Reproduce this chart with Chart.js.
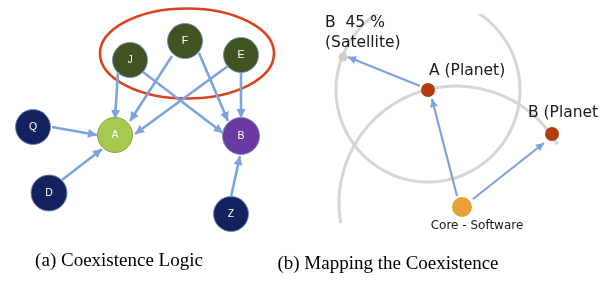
<!DOCTYPE html>
<html>
<head>
<meta charset="utf-8">
<script src="https://cdn.jsdelivr.net/npm/chart.js@4/dist/chart.umd.min.js"></script>
<style>
  html, body { margin: 0; padding: 0; background: #ffffff; }
  #c { display: block; }
</style>
</head>
<body>
<canvas id="c" width="605" height="284"></canvas>
<script>
// ---------- DATA (diagram coordinates) ----------
// Panel (a): coexistence logic graph
const nodeNames  = ['J', 'F', 'E', 'Q', 'A', 'B', 'D', 'Z'];
const nodeX      = [130, 185, 241, 33, 115, 241, 49, 231];
const nodeY      = [60, 41, 55, 127, 135, 136, 193, 214];
const nodeSize   = [17.5, 17.5, 17.5, 17.5, 17.5, 18.5, 18, 17.5];
const nodeColor  = ['#425321', '#425321', '#425321', '#13225e', '#a6c94f', '#6a3aa0', '#13225e', '#13225e'];

// edges: from -> to (start / end points)
const edgeFrom   = ['J', 'F', 'E', 'J', 'F', 'E', 'Q', 'D', 'Z'];
const edgeTo     = ['A', 'A', 'A', 'B', 'B', 'B', 'A', 'A', 'B'];
const edgeX0     = [118, 172, 228, 143, 199, 241, 52, 62, 231];
const edgeY0     = [72, 56, 66, 72, 53, 73, 127, 180, 197];
const edgeX1     = [115, 130, 135, 223, 228, 241, 97, 102, 240];
const edgeY1     = [119, 121, 134, 133, 121, 118, 135, 149, 156];

// highlight ellipse around J, F, E
const groupCenter = [187, 53.5];
const groupRadii  = [87, 45];

// Panel (b): mapping the coexistence
const bodyNames  = ['B  45 %\n(Satellite)', 'A (Planet)', 'B (Planet)', 'Core - Software'];
const bodyX      = [343, 428, 552, 462];
const bodyY      = [57, 90, 134, 207];
const bodySize   = [4.5, 7, 7, 10];
const bodyColor  = ['#cfcfcf', '#b23c0c', '#b23c0c', '#e8a038'];
const labelX     = [325, 429, 528, 477];
const labelY     = [23, 71, 113, 226];

const mapFrom    = ['A (Planet)', 'Core', 'Core'];
const mapTo      = ['Satellite', 'A (Planet)', 'B (Planet)'];
const mapX0      = [420, 457, 473];
const mapY0      = [86, 196, 199];
const mapX1      = [348, 432, 544];
const mapY1      = [57, 99, 143];

// orbits: satellite orbit around A, planet orbit around the core
const orbitCX    = [428, 456];
const orbitCY    = [90, 203];
const orbitR     = [92, 117];
const orbitStart = [0, 170];
const orbitEnd   = [360, 330];

const captions   = ['(a) Coexistence Logic', '(b) Mapping the Coexistence'];
const captionX   = [119, 388];
const captionY   = [266, 269];

// ---------- CHART ----------
const edgeColor = '#7ba4de';
const datasets = [];
for (let i = 0; i < edgeFrom.length; i++) {
  datasets.push({
    type: 'line', label: edgeFrom[i] + '→' + edgeTo[i],
    data: [{x: edgeX0[i], y: edgeY0[i]}, {x: edgeX1[i], y: edgeY1[i]}],
    borderColor: edgeColor, borderWidth: 2.6, pointRadius: 0, fill: false,
    arrow: {len: 9, half: 4.5}
  });
}
for (let i = 0; i < mapFrom.length; i++) {
  datasets.push({
    type: 'line', label: mapFrom[i] + '→' + mapTo[i],
    data: [{x: mapX0[i], y: mapY0[i]}, {x: mapX1[i], y: mapY1[i]}],
    borderColor: edgeColor, borderWidth: 2.2, pointRadius: 0, fill: false,
    arrow: {len: 8, half: 4}
  });
}
datasets.push({
  type: 'scatter', label: 'nodes',
  data: nodeX.map((x, i) => ({x: x, y: nodeY[i]})),
  pointRadius: nodeSize, pointHoverRadius: nodeSize,
  backgroundColor: nodeColor,
  borderColor: nodeColor.map(c => c === '#a6c94f' ? '#86a63f' : 'rgba(110,140,185,0.9)'),
  borderWidth: 1, labels: nodeNames
});
datasets.push({
  type: 'scatter', label: 'bodies',
  data: bodyX.map((x, i) => ({x: x, y: bodyY[i]})),
  pointRadius: bodySize, pointHoverRadius: bodySize,
  backgroundColor: bodyColor, borderColor: bodyColor, borderWidth: 0
});

const deco = {
  id: 'deco',
  beforeDatasetsDraw(chart) {
    const ctx = chart.ctx, sx = chart.scales.x, sy = chart.scales.y;
    const px = v => sx.getPixelForValue(v), py = v => sy.getPixelForValue(v);
    // orbits (right panel, clipped)
    ctx.save();
    ctx.beginPath();
    ctx.rect(px(305), py(14), px(599) - px(305), py(226) - py(14));
    ctx.clip();
    ctx.strokeStyle = '#d6d6d6';
    ctx.lineWidth = 3;
    for (let i = 0; i < orbitCX.length; i++) {
      const r = px(orbitCX[i] + orbitR[i]) - px(orbitCX[i]);
      ctx.beginPath();
      ctx.arc(px(orbitCX[i]), py(orbitCY[i]), r, orbitStart[i] * Math.PI / 180, orbitEnd[i] * Math.PI / 180, false);
      ctx.stroke();
    }
    ctx.restore();
    // highlight ellipse
    ctx.save();
    ctx.strokeStyle = '#d8431b';
    ctx.lineWidth = 2.6;
    ctx.beginPath();
    ctx.ellipse(px(groupCenter[0]), py(groupCenter[1]),
      px(groupCenter[0] + groupRadii[0]) - px(groupCenter[0]),
      py(groupCenter[1] + groupRadii[1]) - py(groupCenter[1]), 0, 0, Math.PI * 2);
    ctx.stroke();
    ctx.restore();
  },
  afterDatasetsDraw(chart) {
    const ctx = chart.ctx, sx = chart.scales.x, sy = chart.scales.y;
    const px = v => sx.getPixelForValue(v), py = v => sy.getPixelForValue(v);
    // arrowheads
    chart.data.datasets.forEach(ds => {
      if (!ds.arrow) return;
      const a = ds.data[0], b = ds.data[1];
      const x0 = px(a.x), y0 = py(a.y), x1 = px(b.x), y1 = py(b.y);
      const ang = Math.atan2(y1 - y0, x1 - x0);
      const L = ds.arrow.len, H = ds.arrow.half;
      ctx.save();
      ctx.fillStyle = ds.borderColor;
      ctx.beginPath();
      ctx.moveTo(x1, y1);
      ctx.lineTo(x1 - L * Math.cos(ang) + H * Math.sin(ang), y1 - L * Math.sin(ang) - H * Math.cos(ang));
      ctx.lineTo(x1 - L * Math.cos(ang) - H * Math.sin(ang), y1 - L * Math.sin(ang) + H * Math.cos(ang));
      ctx.closePath();
      ctx.fill();
      ctx.restore();
    });
    // node labels
    ctx.save();
    ctx.fillStyle = '#ffffff';
    ctx.font = '10.5px "Liberation Sans", Arial, sans-serif';
    ctx.textAlign = 'center';
    ctx.textBaseline = 'middle';
    nodeNames.forEach((n, i) => ctx.fillText(n, px(nodeX[i]), py(nodeY[i]) + 0.5));
    ctx.restore();
    // body labels (right panel, cut at the panel's right edge)
    ctx.save();
    ctx.beginPath();
    ctx.rect(0, 0, px(598), chart.height);
    ctx.clip();
    ctx.fillStyle = '#1a1a1a';
    ctx.textBaseline = 'middle';
    bodyNames.forEach((n, i) => {
      const isCore = n.indexOf('Core') === 0;
      ctx.font = isCore ? '12px "DejaVu Sans", sans-serif' : '15.5px "DejaVu Sans", sans-serif';
      ctx.textAlign = isCore ? 'center' : 'left';
      n.split('\n').forEach((line, k) => ctx.fillText(line, px(labelX[i]), py(labelY[i] + k * 20)));
    });
    ctx.restore();
    // captions
    ctx.save();
    ctx.fillStyle = '#000000';
    ctx.font = '19px "Liberation Serif", "Times New Roman", serif';
    ctx.textAlign = 'center';
    ctx.textBaseline = 'alphabetic';
    captions.forEach((c, i) => ctx.fillText(c, px(captionX[i]), py(captionY[i])));
    ctx.restore();
  }
};

new Chart(document.getElementById('c'), {
  type: 'scatter',
  data: { datasets: datasets },
  options: {
    responsive: false,
    animation: false,
    maintainAspectRatio: false,
    layout: { padding: 0, autoPadding: false },
    events: [],
    scales: {
      x: { type: 'linear', min: 0, max: 605, display: false },
      y: { type: 'linear', min: 0, max: 284, reverse: true, display: false }
    },
    plugins: { legend: { display: false }, tooltip: { enabled: false }, title: { display: false } }
  },
  plugins: [deco]
});
</script>
</body>
</html>
